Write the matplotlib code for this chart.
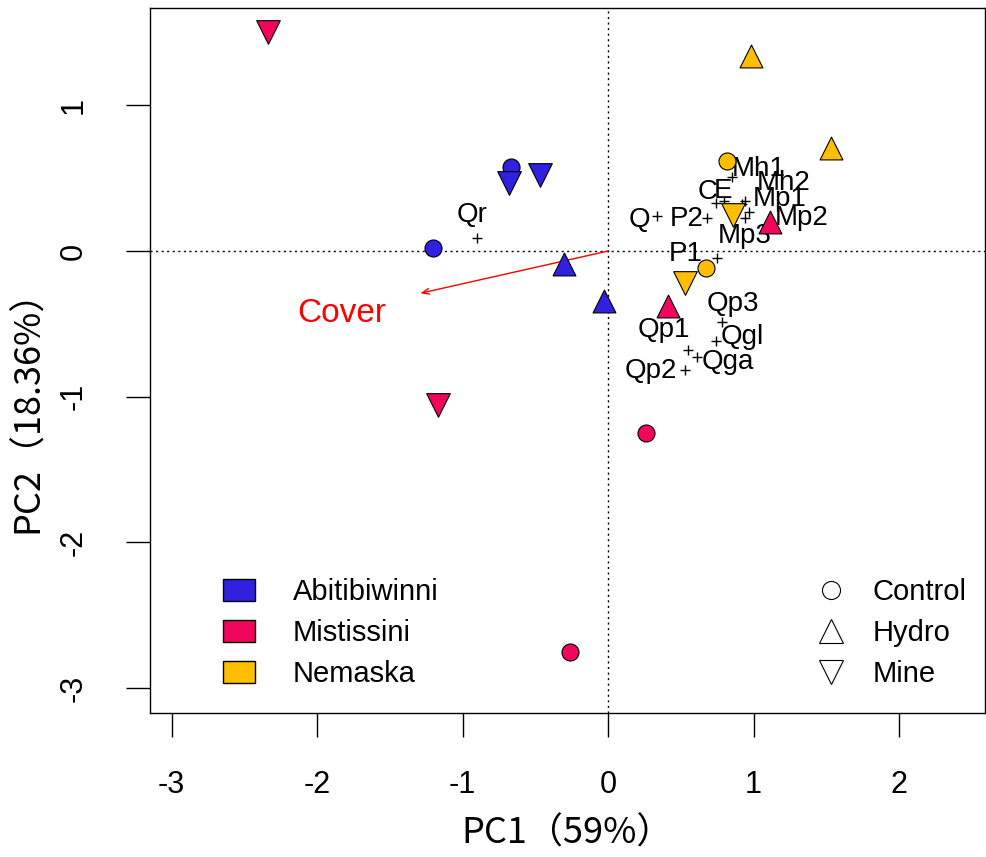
import matplotlib
matplotlib.use("Agg")
from matplotlib import pyplot as plt
from matplotlib.lines import Line2D
from matplotlib.patches import Patch

plt.rcParams["font.family"] = ["Liberation Sans", "DejaVu Sans"]
plt.rcParams["axes.unicode_minus"] = False

# site scores
regions = ["Abitibiwinni", "Mistissini", "Nemaska"]
region_colors = ["#3020E0", "#F2055C", "#FFBF00"]
site_types = ["Control", "Hydro", "Mine"]

site_region = ["Abitibiwinni"] * 6 + ["Mistissini"] * 6 + ["Nemaska"] * 6
site_type = [
    "Control", "Control", "Mine", "Mine", "Hydro", "Hydro",
    "Mine", "Mine", "Hydro", "Control", "Control", "Hydro",
    "Hydro", "Hydro", "Control", "Mine", "Control", "Mine",
]
site_pc1 = [-1.20, -0.67, -0.68, -0.47, -0.30, -0.03,
            -2.34, -1.17, 0.41, 0.26, -0.26, 1.11,
            0.98, 1.53, 0.82, 0.86, 0.67, 0.53]
site_pc2 = [0.02, 0.58, 0.47, 0.52, -0.09, -0.34,
            1.50, -1.06, -0.38, -1.25, -2.75, 0.20,
            1.34, 0.71, 0.62, 0.25, -0.12, -0.22]

# species scores
species = ["Qr", "Q", "P2", "P1", "C", "E", "Mh1", "Mh2", "Mp1", "Mp2", "Mp3",
           "Qp3", "Qgl", "Qp1", "Qga", "Qp2"]
species_pc1 = [-0.90, 0.34, 0.68, 0.75, 0.74, 0.80, 0.85, 0.94, 0.92, 0.97, 0.94,
               0.78, 0.74, 0.55, 0.61, 0.53]
species_pc2 = [0.09, 0.24, 0.23, -0.05, 0.33, 0.34, 0.51, 0.34, 0.32, 0.27, 0.23,
               -0.49, -0.62, -0.68, -0.73, -0.82]

# environmental vector
env_name = "Cover"
env_pc1 = -1.29
env_pc2 = -0.29

# label offsets (points) for the species names
label_offset = [(-3.6, 16.6), (-13, -3), (-14.5, -1.4), (-22.5, 2.9), (-5.8, 7.9),
                (-0.7, 7.2), (19.5, 5.8), (28, 13), (27, 3.6), (37.5, -4.3),
                (0, -13), (7.9, 13.5), (19, 2.9), (-17.5, 14.4), (22.5, -3.6), (-24.5, -0.7)]

markers = {"Control": "o", "Hydro": "^", "Mine": "v"}
sizes = {"Control": 150, "Hydro": 270, "Mine": 290}
colors = dict(zip(regions, region_colors))

fig = plt.figure(figsize=(9.87, 8.57), dpi=100)
ax = fig.add_axes([150 / 987, 144 / 857, 835 / 987, 705 / 857])

ax.axhline(0, color="black", lw=1.0, ls=(0, (1.5, 2.5)), zorder=1)
ax.axvline(0, color="black", lw=1.0, ls=(0, (1.5, 2.5)), zorder=1)

# species
ax.scatter(species_pc1, species_pc2, marker="+", color="black", s=60, lw=1.0, zorder=2)
for name, x, y, off in zip(species, species_pc1, species_pc2, label_offset):
    ax.annotate(name, (x, y), xytext=off, textcoords="offset points",
                ha="center", va="center", fontsize=20, zorder=3)

# environmental arrow
ax.annotate("", xy=(env_pc1, env_pc2), xytext=(0, 0),
            arrowprops=dict(arrowstyle="->,head_length=0.5,head_width=0.2",
                            color="red", lw=1.0, shrinkA=0, shrinkB=0), zorder=2)
ax.text(env_pc1 * 1.42, env_pc2 * 1.47, env_name, color="red", fontsize=24,
        ha="center", va="center")

# sites
for reg, typ, x, y in zip(site_region, site_type, site_pc1, site_pc2):
    ax.scatter(x, y, marker=markers[typ], s=sizes[typ], facecolor=colors[reg],
               edgecolor="black", lw=0.8, zorder=4)

ax.set_xlim(-3.148, 2.591)
ax.set_ylim(-3.171, 1.668)
ax.set_xticks([-3, -2, -1, 0, 1, 2])
ax.set_yticks([-3, -2, -1, 0, 1])
ax.tick_params(length=17, width=1.0, labelsize=22, direction="out")
ax.tick_params(axis="x", pad=24)
ax.tick_params(axis="y", pad=27, labelrotation=90)
for lab in ax.get_yticklabels():
    lab.set_va("center")
for sp in ax.spines.values():
    sp.set_linewidth(1.0)

cjk = ["Noto Sans CJK SC", "DejaVu Sans"]
ax.set_xlabel("PC1（59%）", fontsize=26, family=cjk)
ax.set_ylabel("PC2（18.36%）", fontsize=26, family=cjk)
ax.xaxis.set_label_coords(0.5, -0.145)
ax.yaxis.set_label_coords(-0.125, 0.44)

# legends
region_handles = [Patch(facecolor=c, edgecolor="black", lw=1.0) for c in region_colors]
leg1 = ax.legend(region_handles, regions, loc="lower left", bbox_to_anchor=(0.087, 0.035),
                 frameon=False, fontsize=21, handlelength=1.1, handleheight=0.75,
                 handletextpad=1.3, labelspacing=0.45, borderpad=0, borderaxespad=0)
ax.add_artist(leg1)

type_handles = [Line2D([], [], marker=markers[t], ls="none", markerfacecolor="none",
                       markeredgecolor="black", markeredgewidth=0.8,
                       markersize=13 if t == "Control" else 17) for t in site_types]
ax.legend(type_handles, site_types, loc="lower left", bbox_to_anchor=(0.795, 0.035),
          frameon=False, fontsize=21, handlelength=1.2, handletextpad=0.8,
          labelspacing=0.45, borderpad=0, borderaxespad=0)

fig.savefig("out.png", dpi=100)
